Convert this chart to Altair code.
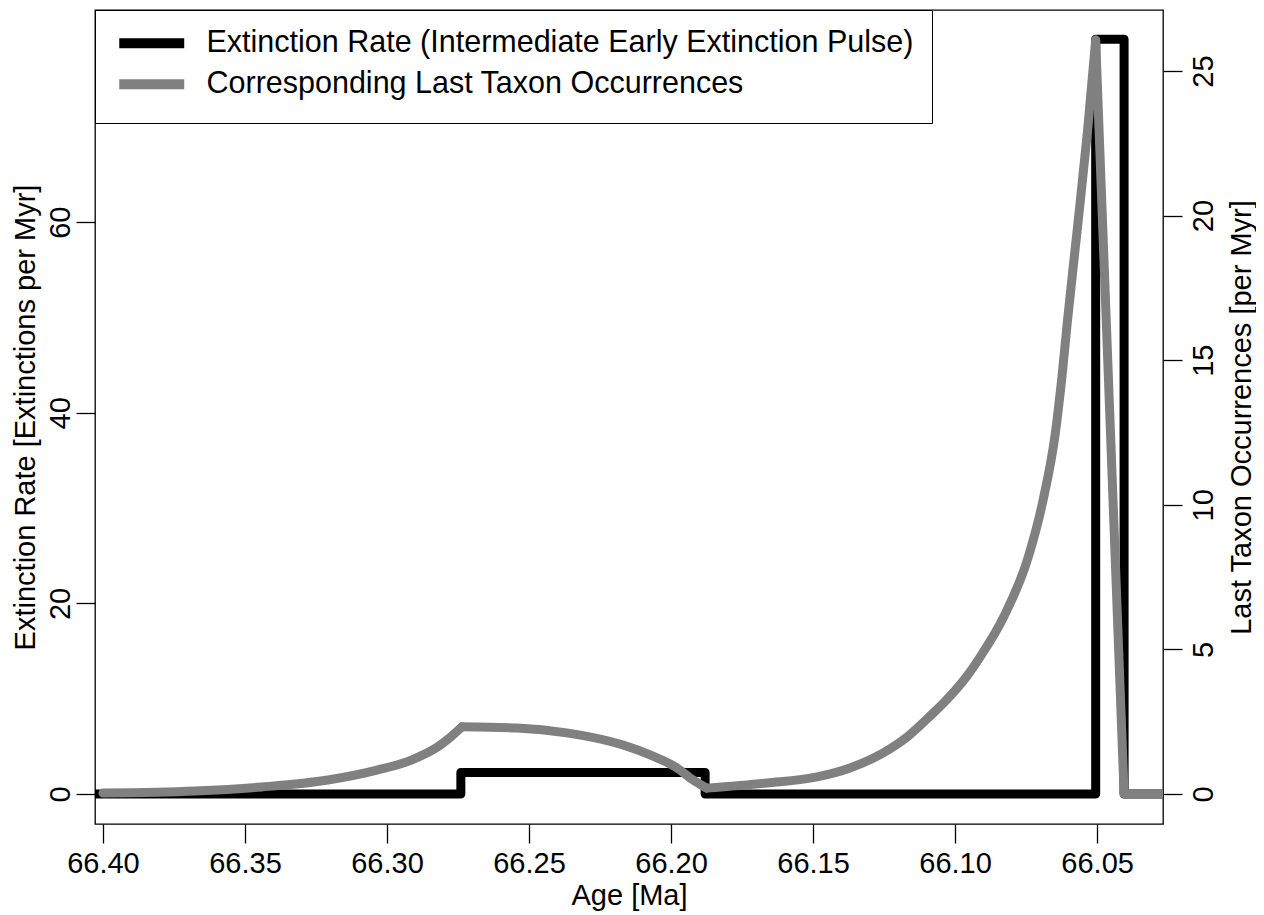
import altair as alt
import pandas as pd

# ---- data ----
rate_name = "Extinction Rate (Intermediate Early Extinction Pulse)"
occ_name = "Corresponding Last Taxon Occurrences"

rate_age = [66.41, 66.274, 66.274, 66.188, 66.188, 66.0505, 66.0505, 66.0405, 66.0405, 66.02]
rate_val = [0, 0, 2.25, 2.25, 0, 0, 79.2, 79.2, 0, 0]

# last-occurrence curve, read as pieces (smooth pieces joined at sharp corners)
occ_age_1 = [66.400, 66.3677, 66.3441, 66.3208, 66.3032, 66.2912, 66.2821, 66.2779, 66.2736]
occ_val_1 = [0.03, 0.10, 0.24, 0.48, 0.83, 1.18, 1.63, 1.94, 2.32]
occ_age_2 = [66.2736, 66.2543, 66.2367, 66.2169, 66.2074, 66.1979, 66.1922, 66.1875]
occ_val_2 = [2.32, 2.28, 2.11, 1.69, 1.35, 0.90, 0.48, 0.20]
occ_age_3 = [66.1875, 66.1662, 66.1486, 66.1370, 66.1253, 66.1169, 66.1098, 66.1030,
             66.0960, 66.0911, 66.0830, 66.0742, 66.0690, 66.0647, 66.0623, 66.0605,
             66.0569, 66.0534, 66.0505]
occ_val_3 = [0.20, 0.38, 0.59, 0.90, 1.42, 1.97, 2.60, 3.25,
             4.05, 4.75, 6.10, 8.20, 10.17, 12.48, 14.50, 16.30,
             19.60, 22.90, 26.07]
occ_age_4 = [66.0505, 66.0405, 66.02]
occ_val_4 = [26.07, 0, 0]

x_ticks = [66.40, 66.35, 66.30, 66.25, 66.20, 66.15, 66.10, 66.05]
left_ticks = [0, 20, 40, 60]
right_ticks = [0, 5, 10, 15, 20, 25]

rate_df = pd.DataFrame({"age": rate_age, "val": rate_val, "series": rate_name,
                        "i": range(len(rate_age))})


def piece(ages, vals, seg):
    return pd.DataFrame({"age": ages, "val": vals, "series": occ_name,
                         "seg": seg, "i": range(len(ages))})


occ_smooth = pd.concat([piece(occ_age_1, occ_val_1, 1),
                        piece(occ_age_2, occ_val_2, 2),
                        piece(occ_age_3, occ_val_3, 3)], ignore_index=True)
occ_straight = piece(occ_age_4, occ_val_4, 4)

FONT = "Liberation Sans"
FS = 29

xscale = alt.Scale(domain=[66.4028, 66.0268], zero=False, nice=False)
occ_y_scale = alt.Scale(domain=[-1.04, 27.11], nice=False, zero=False)
color = alt.Color(
    "series:N",
    scale=alt.Scale(domain=[rate_name, occ_name], range=["#000000", "#808080"]),
    legend=alt.Legend(
        title=None, orient="none", legendX=0, legendY=0,
        symbolType="M-1,0L6.22,0", symbolSize=324, symbolStrokeWidth=10,
        labelFont=FONT, labelFontSize=30.5, labelColor="black",
        labelOffset=63, padding=18, rowPadding=0,
        strokeColor="black", fillColor="white", labelLimit=1000,
    ),
)

xaxis = alt.Axis(values=x_ticks, format=".2f", title="Age [Ma]",
                 labelBaseline="alphabetic", labelPadding=29,
                 titleY=80, titleBaseline="alphabetic")

rate = alt.Chart(rate_df).mark_line(
    strokeWidth=9, strokeJoin="round", strokeCap="round", clip=True
).encode(
    x=alt.X("age:Q", scale=xscale, axis=xaxis),
    y=alt.Y("val:Q", scale=alt.Scale(domain=[-3.15, 82.27], nice=False, zero=False),
            axis=alt.Axis(orient="left", values=left_ticks, title="Extinction Rate [Extinctions per Myr]",
                          labelAngle=270, labelAlign="center", labelBaseline="alphabetic",
                          labelPadding=7, titleAngle=270, titleX=-61, titleY=407,
                          titleAlign="center", titleBaseline="alphabetic")),
    color=color,
    order="i:Q",
)

occ_axis = alt.Axis(orient="right", values=right_ticks, title="Last Taxon Occurrences [per Myr]",
                    labelAngle=270, labelAlign="center", labelBaseline="alphabetic",
                    labelPadding=30, titleAngle=270, titleX=87, titleY=407,
                    titleAlign="center", titleBaseline="alphabetic")

occ1 = alt.Chart(occ_smooth).mark_line(
    strokeWidth=9, strokeJoin="round", strokeCap="round", clip=True, interpolate="monotone"
).encode(
    x=alt.X("age:Q", scale=xscale, axis=xaxis),
    y=alt.Y("val:Q", scale=occ_y_scale, axis=occ_axis),
    color=color,
    detail="seg:N",
    order="i:Q",
)

occ2 = alt.Chart(occ_straight).mark_line(
    strokeWidth=9, strokeJoin="round", strokeCap="round", clip=True
).encode(
    x=alt.X("age:Q", scale=xscale, axis=xaxis),
    y=alt.Y("val:Q", scale=occ_y_scale, axis=occ_axis),
    color=color,
    order="i:Q",
)

occ = alt.layer(occ1, occ2)

chart = alt.layer(rate, occ).resolve_scale(y="independent").properties(
    width=1068, height=814,
    autosize=alt.AutoSizeParams(type="none"),
    padding={"left": 87, "top": 2, "right": 93, "bottom": 89},
    background="white",
).configure_view(
    stroke="black", strokeWidth=1.3, fill="white"
).configure_axis(
    grid=False, domain=False, tickColor="black", tickSize=19, tickWidth=1.3,
    labelFont=FONT, labelFontSize=FS, labelColor="black",
    titleFont=FONT, titleFontSize=FS, titleFontWeight="normal", titleColor="black",
)

chart.save("out.html", embed_options={"renderer": "svg", "actions": False})
